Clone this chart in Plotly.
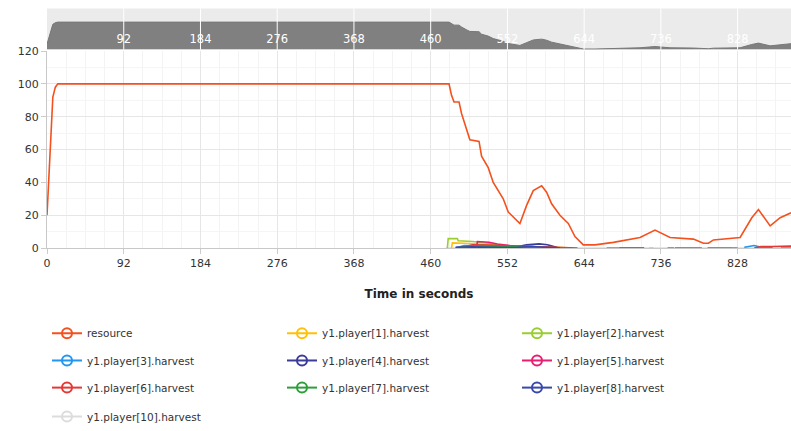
import plotly.graph_objects as go

# ---------------- data ----------------
t_res = [0, 3, 5, 7, 10, 13, 482, 485, 488, 494, 497, 503, 507, 518, 521, 529, 535,
         547, 553, 567, 575, 583, 593, 599, 605, 615, 625, 633, 643, 657, 679, 711,
         729, 747, 775, 787, 793, 799, 831, 845, 853, 867, 879, 892]
resource = [20, 54, 78, 92, 98, 100, 100, 93, 89, 89, 82, 72, 66, 65, 56, 49, 40,
            30, 22, 15, 26, 35, 38, 34, 27, 20, 15, 7, 2, 2, 3.5, 6.5,
            11, 6.5, 5.5, 3, 3, 5, 6.5, 18.5, 23.5, 13.5, 18.5, 21.5]

t_p1 = [485, 486, 500, 520, 540, 560, 580, 600, 620, 630, None, 722, 727]
p1 = [0, 3.2, 3.0, 2.5, 1.8, 1.0, 0.5, 0.8, 0.3, 0, None, 0, 0]
t_p2 = [480, 481, 492, 493, 510, 530, 545, 560]
p2 = [0, 5.8, 5.8, 4.5, 4.0, 3.0, 1.5, 0.5]
t_p3 = [490, 500, 520, 550, 580, 610, 620, None, 671, 686, None, 836, 848, 856, 870, None, 880, 892]
p3 = [0, 1.5, 1.2, 0.8, 1.0, 0.5, 0, None, 0, 0, None, 0.5, 1.6, 0.5, 0.3, None, 0, 0]
t_p4 = [490, 520, 560, 575, 590, 600, 612, None, 686, 716]
p4 = [0.4, 0.5, 0.5, 2.0, 2.6, 2.0, 0.3, None, 0, 0]
t_p5 = [515, 516, 530, 540, 555, 570, 600, 615, None, 753, 785, None, 792, 822]
p5 = [0, 4.0, 3.6, 2.5, 1.5, 1.0, 0.5, 0, None, 0, 0, None, 0, 0]
t_p6 = [495, 510, 530, 550, 570, 600, 625, 636, None, 848, 856, 870, 892]
p6 = [0, 2.0, 1.8, 1.5, 1.0, 0.5, 0.2, 0, None, 0, 1.0, 1.0, 1.2]
t_p7 = [495, 520, 540, 560, 580, 600, 610, None, 744, 752, None, 822, 828]
p7 = [0.5, 1.5, 1.2, 0.8, 0.6, 0.3, 0, None, 0, 0, None, 0, 0]
t_p8 = [490, 510, 530, 560, 580, 600, 615]
p8 = [0.5, 0.8, 0.5, 0.3, 1.0, 0.5, 0]
t_p10 = [478, 892]
p10 = [0, 0]

x_ticks = [0, 92, 184, 276, 368, 460, 552, 644, 736, 828]
overview_ticks = [92, 184, 276, 368, 460, 552, 644, 736, 828]

names = ["resource", "y1.player[1].harvest", "y1.player[2].harvest",
         "y1.player[3].harvest", "y1.player[4].harvest", "y1.player[5].harvest",
         "y1.player[6].harvest", "y1.player[7].harvest", "y1.player[8].harvest",
         "y1.player[10].harvest"]
colors = ["#f4511e", "#ffc107", "#9acd32", "#2196f3", "#3b3b9a", "#e91e73",
          "#e53935", "#2e9e3a", "#3949ab", "#dcdcdc"]
series_t = [t_res, t_p1, t_p2, t_p3, t_p4, t_p5, t_p6, t_p7, t_p8, t_p10]
series_v = [resource, p1, p2, p3, p4, p5, p6, p7, p8, p10]

fig = go.Figure()

# overview (top strip)
fig.add_trace(go.Scatter(x=t_res, y=resource, xaxis="x2", yaxis="y2", mode="lines",
                         fill="tozeroy", fillcolor="#808080",
                         line=dict(color="#777777", width=1), showlegend=False,
                         hoverinfo="skip"))

# harvest lines first, then resource on top
order = [9, 1, 2, 3, 4, 5, 6, 7, 8, 0]
for i in order:
    fig.add_trace(go.Scatter(x=series_t[i], y=series_v[i], mode="lines",
                             line=dict(color=colors[i], width=1.6),
                             name=names[i], showlegend=False, connectgaps=False))

# legend entries (4 rows, 3 columns)
legend_ids = ["legend", "legend", "legend", "legend2", "legend2", "legend2",
              "legend3", "legend3", "legend3", "legend4"]
for i in range(len(names)):
    fig.add_trace(go.Scatter(x=[None], y=[None], mode="lines+markers", name=names[i],
                             line=dict(color=colors[i], width=2),
                             marker=dict(symbol="circle-open", size=10, color=colors[i],
                                         line=dict(width=2, color=colors[i])),
                             legend=legend_ids[i]))

H = 431.0
MT, MB, ML, MR = 5, 12, 47, 0
PH = H - MT - MB
PW = 791.0 - ML - MR


def py(y):
    # pixel y (from top of figure) -> paper fraction
    return (H - MB - y) / PH


tick_font = dict(family="DejaVu Sans", size=11, color="#333333")
leg_font = dict(family="DejaVu Sans", size=10.5, color="#333333")


def leg(yc):
    return dict(orientation="h", x=0.0, xanchor="left", y=py(yc),
                yanchor="middle", entrywidth=190, entrywidthmode="pixels",
                font=leg_font, bgcolor="rgba(0,0,0,0)", traceorder="normal")


for t in overview_ticks:
    fig.add_shape(type="line", x0=t, x1=t, xref="x2", yref="y2 domain", y0=0, y1=1,
                  line=dict(color="white", width=1), layer="above")
fig.add_shape(type="rect", x0=0, x1=1, xref="x2 domain", yref="y2 domain", y0=0, y1=1,
              fillcolor="#ebebeb", line=dict(width=0), layer="below")

fig.update_layout(
    width=791, height=431,
    margin=dict(l=ML, r=MR, t=MT, b=MB),
    paper_bgcolor="white", plot_bgcolor="white",
    xaxis=dict(domain=[0, 1], range=[0, 892], tickvals=x_ticks, ticks="outside",
               ticklen=5, tickcolor="#cccccc", showline=True, linecolor="#c8c8c8",
               gridcolor="#e6e6e6", zeroline=False, tickfont=tick_font,
               automargin=False,
               minor=dict(dtick=23, tick0=0, showgrid=True, gridcolor="#f3f3f3"),
               title=dict(text="<b>Time in seconds</b>", standoff=20,
                          font=dict(family="DejaVu Sans", size=12, color="#222222"))),
    yaxis=dict(domain=[py(256), py(52.5)], range=[0, 120], dtick=20,
               ticks="outside", ticklen=5, tickcolor="#cccccc", showline=True,
               linecolor="#c8c8c8", gridcolor="#e6e6e6", zeroline=False,
               tickfont=tick_font, automargin=False,
               minor=dict(dtick=10, showgrid=True, gridcolor="#f5f5f5")),
    xaxis2=dict(domain=[0, 1], anchor="y2", range=[0, 892], tickvals=overview_ticks,
                ticklabelposition="inside", ticks="", showgrid=False, zeroline=False,
                layer="above traces", automargin=False, ticklabelstandoff=1,
                tickfont=dict(family="DejaVu Sans", size=11.5, color="white")),
    yaxis2=dict(domain=[py(51), py(8.5)], anchor="x2", range=[0, 150],
                showticklabels=False, showgrid=False, zeroline=False, ticks="",
                automargin=False),
    legend=leg(344), legend2=leg(372), legend3=leg(400), legend4=leg(430),
    hovermode=False,
)

fig.write_html("out.html", config={"displayModeBar": False},
               post_script="document.body.style.margin='0';"
                           "document.body.style.overflow='hidden';")
